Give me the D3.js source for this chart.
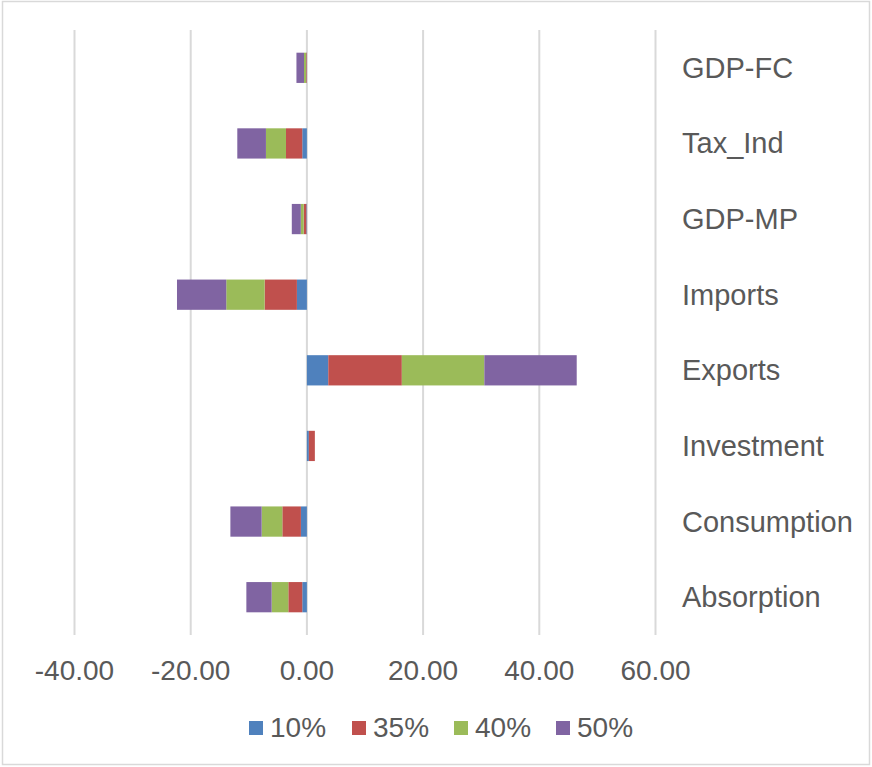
<!DOCTYPE html>
<html>
<head>
<meta charset="utf-8">
<script src="https://cdn.jsdelivr.net/npm/d3@7"></script>
<style>
  html, body { margin: 0; padding: 0; background: #fff; }
  svg { display: block; }
  text { font-family: "Liberation Sans", Arial, sans-serif; fill: #595959; }
</style>
</head>
<body>
<svg id="chart" width="872" height="767"></svg>
<script>
// Categories listed top to bottom as drawn
const categories = ["GDP-FC", "Tax_Ind", "GDP-MP", "Imports", "Exports", "Investment", "Consumption", "Absorption"];
const seriesNames = ["10%", "35%", "40%", "50%"];
const s10 = [-0.05, -0.8, -0.1, -1.72, 3.68, 0.34, -1.03, -0.8];
const s35 = [-0.1, -2.8, -0.45, -5.56, 12.66, 1.03, -3.2, -2.4];
const s40 = [-0.35, -3.45, -0.5, -6.6, 14.2, 0, -3.56, -2.87];
const s50 = [-1.3, -4.93, -1.55, -8.48, 15.9, 0, -5.38, -4.35];
const xTicks = [-40, -20, 0, 20, 40, 60];
const colors = ["#4F81BD", "#C0504D", "#9BBB59", "#8064A2"];

const seriesValues = [s10, s35, s40, s50];
const table = categories.map((c, i) => {
  const row = { cat: c };
  seriesNames.forEach((s, j) => row[s] = seriesValues[j][i]);
  return row;
});

const svg = d3.select("#chart");

// outer border
svg.append("rect").attr("x", 2.5).attr("y", 1.5).attr("width", 867).attr("height", 763)
  .attr("fill", "none").attr("stroke", "#D9D9D9").attr("stroke-width", 1.5);

const x = d3.scaleLinear().domain([-40, 60]).range([74.5, 655.5]);
const y = d3.scaleBand().domain(categories).range([30, 635]).paddingInner(0.6).paddingOuter(0.3);

// gridlines
svg.append("g").selectAll("line").data(xTicks).join("line")
  .attr("x1", d => x(d)).attr("x2", d => x(d))
  .attr("y1", 30).attr("y2", 635)
  .attr("stroke", "#D9D9D9").attr("stroke-width", 2);

const stack = d3.stack().keys(seriesNames).offset(d3.stackOffsetDiverging);
const stacked = stack(table);

const g = svg.append("g");
stacked.forEach((layer, j) => {
  g.append("g").attr("fill", colors[j])
    .selectAll("rect").data(layer).join("rect")
    .attr("x", d => x(Math.min(d[0], d[1])))
    .attr("width", d => Math.abs(x(d[1]) - x(d[0])))
    .attr("y", d => y(d.data.cat))
    .attr("height", y.bandwidth());
});

// category labels at right
svg.append("g").selectAll("text").data(categories).join("text")
  .attr("x", 682)
  .attr("y", d => y(d) + y.bandwidth() / 2 + 10)
  .attr("font-size", 29)
  .text(d => d);

// x axis tick labels
const locale = d3.formatLocale({ decimal: ".", thousands: ",", grouping: [3], currency: ["", ""], minus: "-" });
const fmt = locale.format(".2f");
svg.append("g").selectAll("text").data(xTicks).join("text")
  .attr("x", d => x(d))
  .attr("y", 680)
  .attr("text-anchor", "middle")
  .attr("font-size", 28)
  .text(d => fmt(d));

// legend
const legendX = [249, 352, 454, 556];
const leg = svg.append("g");
seriesNames.forEach((s, j) => {
  leg.append("rect").attr("x", legendX[j]).attr("y", 721).attr("width", 14).attr("height", 14).attr("fill", colors[j]);
  leg.append("text").attr("x", legendX[j] + 21).attr("y", 737).attr("font-size", 28).text(s);
});
</script>
</body>
</html>
